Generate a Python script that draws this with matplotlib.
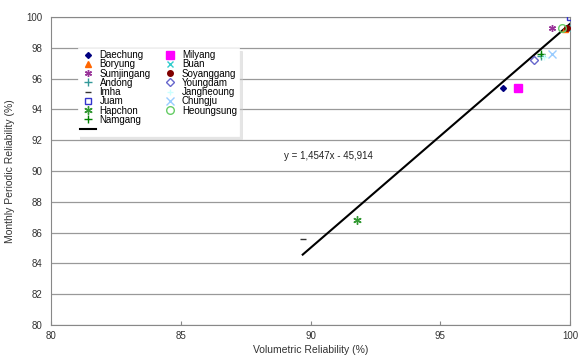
import numpy as np
import matplotlib.pyplot as plt
from matplotlib.lines import Line2D

# Reservoirs: volumetric reliability (x) vs monthly periodic reliability (y), %
names = ["Daechung", "Boryung", "Sumjingang", "Andong", "Imha", "Juam", "Hapchon", "Namgang",
         "Milyang", "Buan", "Soyanggang", "Youngdam", "Jangheoung", "Chungju", "Heoungsung"]
vol_rel = [97.4, 99.8, 99.3, 98.9, 89.7, 100.0, 91.8, 98.9,
           98.0, 99.9, 99.9, 98.6, 99.0, 99.3, 99.7]
mon_rel = [95.4, 99.2, 99.3, 97.5, 85.6, 100.0, 86.8, 97.6,
           95.4, 99.3, 99.3, 97.2, 97.4, 97.6, 99.3]

# regression y = 1.4547x - 45.914
slope, intercept = 1.4547, -45.914
fit_x = [89.7, 100.0]

styles = {
    "Daechung":   dict(marker="D", color="#000080", mfc="#000080", ms=3),
    "Boryung":    dict(marker="^", color="#FF6600", mfc="#FF6600", ms=4),
    "Sumjingang": dict(marker=(6, 2, 0), color="#993399", mfc="none", ms=5),
    "Andong":     dict(marker="+", color="#339999", mfc="none", ms=6),
    "Imha":       dict(marker="_", color="#333333", mfc="none", ms=5),
    "Juam":       dict(marker="s", color="#3333CC", mfc="none", ms=5),
    "Hapchon":    dict(marker=(6, 2, 0), color="#339933", mfc="none", ms=6),
    "Namgang":    dict(marker="+", color="#008000", mfc="none", ms=6),
    "Milyang":    dict(marker="s", color="#FF00FF", mfc="#FF00FF", ms=6),
    "Buan":       dict(marker="x", color="#33CCCC", mfc="none", ms=4),
    "Soyanggang": dict(marker="o", color="#800000", mfc="#800000", ms=4),
    "Youngdam":   dict(marker="D", color="#6666CC", mfc="none", ms=4.5),
    "Jangheoung": dict(marker="+", color="#CCFFFF", mfc="none", ms=5),
    "Chungju":    dict(marker="x", color="#99CCFF", mfc="none", ms=6),
    "Heoungsung": dict(marker="o", color="#66CC66", mfc="none", ms=5.5),
}

plt.rcParams['font.family'] = ['Liberation Sans', 'DejaVu Sans']

fig = plt.figure(figsize=(5.78, 3.61), dpi=100)
ax = fig.add_axes([0.0882, 0.0997, 0.898, 0.853])

handles = []
for n, x, y in zip(names, vol_rel, mon_rel):
    st = styles[n]
    h, = ax.plot([x], [y], linestyle="none", marker=st["marker"], color=st["color"],
                 markerfacecolor=st["mfc"], markersize=st["ms"], markeredgewidth=1.0,
                 label=n, zorder=3)
    handles.append(h)

fx = np.array(fit_x)
line, = ax.plot(fx, slope * fx + intercept, color="black", linewidth=1.5, zorder=2)

ax.text(90.7, 91.0, "y = 1,4547x - 45,914", fontsize=7, ha="center", va="center", color="#222222")

ax.set_xlim(80, 100)
ax.set_ylim(80, 100)
ax.set_xticks([80, 85, 90, 95, 100])
ax.set_yticks(np.arange(80, 101, 2))
ax.grid(axis="y", color="#999999", linewidth=0.9)
ax.set_axisbelow(True)
for s in ax.spines.values():
    s.set_color("#888888")
ax.tick_params(axis="x", direction="in", length=3, color="#888888", labelsize=7, labelcolor="#333333", pad=4)
ax.tick_params(axis="y", length=0, labelsize=7, labelcolor="#333333", pad=6)
ax.set_xlabel("Volumetric Reliability (%)", fontsize=7.5, color="#333333", labelpad=3)
ax.set_ylabel("Monthly Periodic Reliability (%)", fontsize=7.5, color="#333333", labelpad=8)

blank = Line2D([], [], linestyle="none", marker="none")
leg_handles = handles[:8] + [line] + handles[8:] + [blank]
leg_labels = names[:8] + [""] + names[8:] + [""]
leg = ax.legend(leg_handles, leg_labels, ncol=2, fontsize=7, loc="upper left",
                bbox_to_anchor=(0.042, 0.916), frameon=True, fancybox=False,
                shadow={"color": "#cccccc"},
                borderpad=0.25, labelspacing=-0.08, handletextpad=0.4, columnspacing=1.2,
                handlelength=1.6, edgecolor="white", framealpha=1)
leg.get_frame().set_linewidth(0.5)

fig.savefig("out.png", dpi=100)
